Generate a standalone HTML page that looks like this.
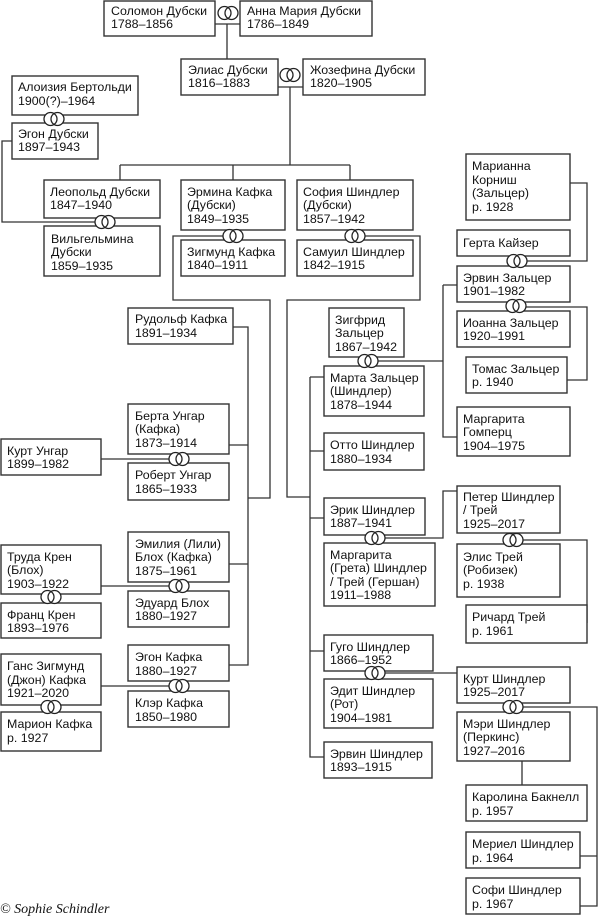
<!DOCTYPE html>
<html><head><meta charset="utf-8"><style>
html,body{margin:0;padding:0;background:#fff;}
svg{display:block;}
text{font-family:"Liberation Sans",sans-serif;font-size:12.4px;fill:#111;}
</style></head><body>
<svg width="600" height="919" viewBox="0 0 600 919" xmlns="http://www.w3.org/2000/svg">
<defs>
<g id="r"><circle cx="-3.5" cy="0" r="6.5" fill="#fff"/><circle cx="3.5" cy="0" r="6.5" fill="#fff"/><circle cx="-3.5" cy="0" r="6.5" fill="none" stroke="#222" stroke-width="1.3"/><circle cx="3.5" cy="0" r="6.5" fill="none" stroke="#222" stroke-width="1.3"/></g>
</defs>
<g fill="none" stroke="#333" stroke-width="1.3">
<path d="M215 24H240M227 24V59"/>
<path d="M278 87H303M290 87V165M120 165H350M120 165V180M233 165V180M350 165V180"/>
<path d="M12 141H2V222H99"/>
<path d="M227 236H173V300H270V498H248"/>
<path d="M233 327H248V665H229M229 445H248M229 564H248"/>
<path d="M101 459H173M101 586H173M101 686H173"/>
<path d="M361 236H420V300H287V497H310"/>
<path d="M310 377V757H324M310 377H324M310 451H324M310 518H324M310 651H324"/>
<path d="M374 361H443M443 285H457M443 285V437H457"/>
<path d="M570 183H587V261H523"/>
<path d="M522 307H587V380H567"/>
<path d="M381 538H443V491H457"/>
<path d="M519 540H587V623"/>
<path d="M381 673H457"/>
<path d="M519 707H597V906H580M580 856H597"/>
<path d="M522 761V785"/>
</g>
<g fill="#fff" stroke="#333" stroke-width="1.4">
<rect x="104" y="1" width="111" height="35"/>
<rect x="240" y="1" width="132" height="35"/>
<rect x="181" y="59" width="97" height="36"/>
<rect x="303" y="59" width="122" height="36"/>
<rect x="12" y="76" width="126" height="39"/>
<rect x="12" y="123" width="86" height="36"/>
<rect x="44" y="180" width="116" height="38"/>
<rect x="44" y="226" width="116" height="50"/>
<rect x="181" y="180" width="104" height="50"/>
<rect x="181" y="240" width="104" height="36"/>
<rect x="297" y="180" width="116" height="50"/>
<rect x="297" y="240" width="116" height="36"/>
<rect x="128" y="308" width="105" height="36"/>
<rect x="128" y="404" width="101" height="50"/>
<rect x="1" y="439" width="100" height="36"/>
<rect x="128" y="463" width="101" height="37"/>
<rect x="128" y="532" width="101" height="50"/>
<rect x="128" y="591" width="101" height="36"/>
<rect x="1" y="545" width="100" height="49"/>
<rect x="1" y="603" width="100" height="35"/>
<rect x="128" y="645" width="101" height="36"/>
<rect x="128" y="691" width="101" height="36"/>
<rect x="1" y="654" width="100" height="51"/>
<rect x="1" y="712" width="100" height="39"/>
<rect x="329" y="308" width="75" height="49"/>
<rect x="324" y="366" width="100" height="50"/>
<rect x="324" y="433" width="100" height="37"/>
<rect x="324" y="498" width="101" height="37"/>
<rect x="324" y="543" width="111" height="63"/>
<rect x="324" y="635" width="109" height="36"/>
<rect x="324" y="679" width="109" height="49"/>
<rect x="324" y="742" width="108" height="36"/>
<rect x="466" y="154" width="104" height="66"/>
<rect x="457" y="230" width="113" height="26"/>
<rect x="457" y="266" width="113" height="36"/>
<rect x="457" y="311" width="113" height="36"/>
<rect x="466" y="357" width="101" height="36"/>
<rect x="457" y="407" width="113" height="49"/>
<rect x="457" y="486" width="103" height="47"/>
<rect x="457" y="544" width="103" height="53"/>
<rect x="466" y="605" width="121" height="38"/>
<rect x="457" y="667" width="113" height="36"/>
<rect x="457" y="712" width="113" height="49"/>
<rect x="466" y="785" width="121" height="36"/>
<rect x="466" y="832" width="114" height="36"/>
<rect x="466" y="878" width="114" height="36"/>
</g>
<use href="#r" x="228" y="13"/>
<use href="#r" x="290" y="75"/>
<use href="#r" x="54" y="119"/>
<use href="#r" x="105" y="222"/>
<use href="#r" x="233" y="236"/>
<use href="#r" x="355" y="236"/>
<use href="#r" x="179" y="459"/>
<use href="#r" x="179" y="586"/>
<use href="#r" x="51" y="597"/>
<use href="#r" x="179" y="686"/>
<use href="#r" x="51" y="707"/>
<use href="#r" x="368" y="361"/>
<use href="#r" x="375" y="538"/>
<use href="#r" x="375" y="673"/>
<use href="#r" x="517" y="261"/>
<use href="#r" x="516" y="306"/>
<use href="#r" x="513" y="540"/>
<use href="#r" x="513" y="707"/>

<text x="111" y="15">Соломон Дубски</text><text x="111" y="28">1788–1856</text>
<text x="247" y="15">Анна Мария Дубски</text><text x="247" y="28">1786–1849</text>
<text x="188" y="74">Элиас Дубски</text><text x="188" y="87">1816–1883</text>
<text x="310" y="74">Жозефина Дубски</text><text x="310" y="87">1820–1905</text>
<text x="18" y="91">Алоизия Бертольди</text><text x="18" y="105">1900(?)–1964</text>
<text x="18" y="138">Эгон Дубски</text><text x="18" y="151">1897–1943</text>
<text x="50" y="196">Леопольд Дубски</text><text x="50" y="209">1847–1940</text>
<text x="51" y="243">Вильгельмина</text><text x="51" y="256">Дубски</text><text x="51" y="270">1859–1935</text>
<text x="187" y="196">Эрмина Кафка</text><text x="187" y="209">(Дубски)</text><text x="187" y="223">1849–1935</text>
<text x="187" y="256">Зигмунд Кафка</text><text x="187" y="269">1840–1911</text>
<text x="303" y="196">София Шиндлер</text><text x="303" y="209">(Дубски)</text><text x="303" y="223">1857–1942</text>
<text x="303" y="256">Самуил Шиндлер</text><text x="303" y="269">1842–1915</text>
<text x="135" y="323">Рудольф Кафка</text><text x="135" y="337">1891–1934</text>
<text x="135" y="420">Берта Унгар</text><text x="135" y="433">(Кафка)</text><text x="135" y="447">1873–1914</text>
<text x="7" y="455">Курт Унгар</text><text x="7" y="468">1899–1982</text>
<text x="135" y="479">Роберт Унгар</text><text x="135" y="493">1865–1933</text>
<text x="135" y="548">Эмилия (Лили)</text><text x="135" y="561">Блох (Кафка)</text><text x="135" y="575">1875–1961</text>
<text x="135" y="607">Эдуард Блох</text><text x="135" y="620">1880–1927</text>
<text x="7" y="561">Труда Крен</text><text x="7" y="574">(Блох)</text><text x="7" y="588">1903–1922</text>
<text x="7" y="619">Франц Крен</text><text x="7" y="632">1893–1976</text>
<text x="135" y="661">Эгон Кафка</text><text x="135" y="675">1880–1927</text>
<text x="135" y="707">Клэр Кафка</text><text x="135" y="721">1850–1980</text>
<text x="7" y="670">Ганс Зигмунд</text><text x="7" y="684">(Джон) Кафка</text><text x="7" y="697">1921–2020</text>
<text x="7" y="728">Марион Кафка</text><text x="7" y="742">р. 1927</text>
<text x="335" y="324">Зигфрид</text><text x="335" y="337">Зальцер</text><text x="335" y="351">1867–1942</text>
<text x="330" y="382">Марта Зальцер</text><text x="330" y="395">(Шиндлер)</text><text x="330" y="409">1878–1944</text>
<text x="330" y="449">Отто Шиндлер</text><text x="330" y="463">1880–1934</text>
<text x="330" y="514">Эрик Шиндлер</text><text x="330" y="527">1887–1941</text>
<text x="330" y="559">Маргарита</text><text x="330" y="572">(Грета) Шиндлер</text><text x="330" y="586">/ Трей (Гершан)</text><text x="330" y="599">1911–1988</text>
<text x="330" y="651">Гуго Шиндлер</text><text x="330" y="664">1866–1952</text>
<text x="330" y="695">Эдит Шиндлер</text><text x="330" y="708">(Рот)</text><text x="330" y="722">1904–1981</text>
<text x="330" y="758">Эрвин Шиндлер</text><text x="330" y="771">1893–1915</text>
<text x="472" y="170">Марианна</text><text x="472" y="184">Корниш</text><text x="472" y="197">(Зальцер)</text><text x="472" y="211">р. 1928</text>
<text x="463" y="247">Герта Кайзер</text>
<text x="463" y="282">Эрвин Зальцер</text><text x="463" y="295">1901–1982</text>
<text x="463" y="327">Иоанна Зальцер</text><text x="463" y="340">1920–1991</text>
<text x="472" y="373">Томас Зальцер</text><text x="472" y="386">р. 1940</text>
<text x="463" y="423">Маргарита</text><text x="463" y="436">Гомперц</text><text x="463" y="450">1904–1975</text>
<text x="463" y="501">Петер Шиндлер</text><text x="463" y="514">/ Трей</text><text x="463" y="528">1925–2017</text>
<text x="463" y="561">Элис Трей</text><text x="463" y="574">(Робизек)</text><text x="463" y="588">р. 1938</text>
<text x="472" y="621">Ричард Трей</text><text x="472" y="635">р. 1961</text>
<text x="463" y="683">Курт Шиндлер</text><text x="463" y="696">1925–2017</text>
<text x="463" y="728">Мэри Шиндлер</text><text x="463" y="741">(Перкинс)</text><text x="463" y="755">1927–2016</text>
<text x="472" y="801">Каролина Бакнелл</text><text x="472" y="815">р. 1957</text>
<text x="472" y="848">Мериел Шиндлер</text><text x="472" y="862">р. 1964</text>
<text x="472" y="894">Софи Шиндлер</text><text x="472" y="908">р. 1967</text>
<text x="0" y="913" style="font-family:'Liberation Serif',serif;font-style:italic;font-size:14px;">© Sophie Schindler</text>
</svg>
</body></html>
